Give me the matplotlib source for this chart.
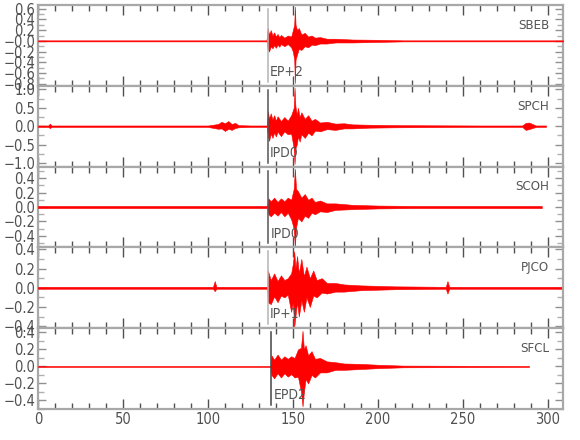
import matplotlib
matplotlib.use("Agg")
import matplotlib.pyplot as plt
from matplotlib import font_manager
from matplotlib.ticker import MultipleLocator

# pick a narrow font if we have one, else condensed DejaVu
names = {f.name for f in font_manager.fontManager.ttflist}
if "Liberation Sans Narrow" in names:
    plt.rcParams["font.family"] = ["Liberation Sans Narrow", "DejaVu Sans"]
else:
    plt.rcParams["font.family"] = ["DejaVu Sans"]
    plt.rcParams["font.stretch"] = "condensed"

stations = ["SBEB", "SPCH", "SCOH", "PJCO", "SFCL"]
picks = ["EP+2", "IPD0", "IPD0", "IP+1", "EPD2"]
pick_times = [135.3, 135.2, 135.5, 135.3, 137.4]

# envelope of each trace (time s, upper and lower amplitude)
sbeb_t = [0, 134.5, 135.2, 136, 137, 138, 139, 140, 141, 142, 143, 145, 147, 149, 150, 150.8,
          151.2, 151.6, 152.5, 153.5, 155, 157, 159, 161, 163, 166, 170, 175, 185, 200, 215, 309]
sbeb_up = [.01, .01, .24, .12, .2, .1, .16, .08, .13, .07, .11, .06, .1, .08, .2, .3,
           .64, .3, .2, .24, .12, .15, .08, .1, .06, .07, .04, .04, .025, .02, .01, .01]
sbeb_lo = [-.01, -.01, -.15, -.2, -.1, -.14, -.08, -.13, -.07, -.11, -.06, -.1, -.06, -.12, -.2, -.35,
           -.79, -.35, -.25, -.15, -.17, -.1, -.12, -.07, -.08, -.05, -.05, -.03, -.03, -.02, -.01, -.01]

spch_t = [0, 6, 7, 8, 60, 100, 106, 108, 110, 112, 114, 116, 118, 125, 134.8, 135.3, 136, 137,
          138, 139, 140, 141, 143, 145, 147, 149, 150.5, 151, 151.5, 152.3, 153, 154, 155, 157,
          159, 161, 163, 166, 170, 175, 180, 185, 195, 210, 230, 260, 285, 287, 289, 291, 293, 299]
spch_up = [.02, .02, .07, .02, .02, .02, .06, .12, .08, .14, .06, .09, .03, .02, .02, .41, .2, .35,
           .18, .3, .15, .27, .14, .25, .15, .3, .5, 1.05, .55, .3, .5, .25, .38, .2,
           .3, .15, .2, .1, .12, .07, .08, .05, .04, .03, .025, .02, .02, .09, .1, .06, .02, .02]
spch_lo = [-.02, -.02, -.05, -.02, -.02, -.02, -.07, -.06, -.13, -.07, -.1, -.05, -.03, -.02, -.02, -.25, -.4, -.2,
           -.32, -.17, -.28, -.15, -.27, -.14, -.22, -.2, -.6, -1.03, -.6, -.5, -.28, -.42, -.22, -.32,
           -.18, -.25, -.12, -.14, -.08, -.1, -.06, -.06, -.04, -.03, -.025, -.02, -.02, -.1, -.08, -.05, -.02, -.02]

scoh_t = [0, 135, 135.6, 137, 139, 141, 143, 145, 147, 149, 150.5, 151.2, 151.9, 153, 155, 157,
          159, 161, 163, 166, 170, 175, 185, 200, 220, 296.5]
scoh_up = [.015, .015, .12, .08, .13, .07, .12, .08, .13, .1, .25, .53, .25, .22, .13, .18,
           .1, .13, .07, .09, .05, .05, .03, .02, .015, .015]
scoh_lo = [-.015, -.015, -.1, -.13, -.08, -.12, -.07, -.13, -.08, -.17, -.3, -.55, -.28, -.15, -.2, -.12,
           -.15, -.08, -.1, -.06, -.07, -.04, -.03, -.02, -.015, -.015]

pjco_t = [0, 103, 104, 105, 135, 135.3, 137, 139, 141, 143, 145, 147, 149, 150, 150.8, 151.5, 152.5,
          153.5, 155, 156.5, 158, 160, 162, 164, 167, 170, 175, 180, 190, 210, 240, 241, 242, 308]
pjco_up = [.01, .01, .07, .01, .01, .18, .08, .15, .07, .13, .08, .1, .15, .25, .38, .2, .33,
           .15, .3, .12, .22, .1, .18, .08, .1, .05, .05, .035, .025, .015, .01, .07, .01, .01]
pjco_lo = [-.01, -.01, -.035, -.01, -.01, -.15, -.17, -.09, -.15, -.08, -.1, -.07, -.25, -.15, -.41, -.3, -.15,
           -.3, -.13, -.25, -.1, -.2, -.08, -.1, -.05, -.06, -.04, -.04, -.025, -.015, -.01, -.06, -.01, -.01]

sfcl_t = [0, 137, 137.4, 139, 141, 143, 145, 147, 149, 151, 153, 154.8, 155.7, 156.5, 157.5, 159,
          161, 163, 166, 170, 175, 180, 190, 200, 215, 289]
sfcl_up = [.006, .006, .13, .08, .14, .08, .12, .09, .12, .1, .2, .22, .42, .2, .25, .13,
           .18, .09, .1, .06, .05, .035, .03, .02, .01, .006]
sfcl_lo = [-.006, -.006, -.1, -.14, -.08, -.13, -.08, -.12, -.09, -.13, -.12, -.3, -.47, -.3, -.15, -.2,
           -.1, -.13, -.07, -.07, -.04, -.04, -.03, -.02, -.01, -.006]

traces = [(sbeb_t, sbeb_up, sbeb_lo), (spch_t, spch_up, spch_lo), (scoh_t, scoh_up, scoh_lo),
          (pjco_t, pjco_up, pjco_lo), (sfcl_t, sfcl_up, sfcl_lo)]

ylims = [(-0.84, 0.67), (-1.1, 1.1), (-0.56, 0.56), (-0.42, 0.42), (-0.5, 0.45)]
yticks = [[0.6, 0.4, 0.2, 0.0, -0.2, -0.4, -0.6, -0.8], [1.0, 0.5, 0.0, -0.5, -1.0],
          [0.4, 0.2, 0.0, -0.2, -0.4], [0.4, 0.2, 0.0, -0.2, -0.4], [0.4, 0.2, 0.0, -0.2, -0.4]]
ylabels = [["0.6", "0.4", "0.2", "\u22120.0", "\u22120.2", "\u22120.4", "\u22120.6", "\u22120.8"],
           ["1.0", "0.5", "0.0", "\u22120.5", "\u22121.0"],
           ["0.4", "0.2", "0.0", "\u22120.2", "\u22120.4"],
           ["0.4", "0.2", "0.0", "\u22120.2", "\u22120.4"],
           ["0.4", "0.2", "0.0", "\u22120.2", "\u22120.4"]]
pick_colors = ["#b4b4b4", "#555555", "#555555", "#b4b4b4", "#444444"]

fig, axes = plt.subplots(5, 1, figsize=(5.8, 4.4), dpi=100, sharex=True)
fig.subplots_adjust(left=0.0655, right=0.9707, bottom=0.0705, top=0.9886, hspace=0)

for i, ax in enumerate(axes):
    t, up, lo = traces[i]
    ax.fill_between(t, lo, up, color="red", lw=0.4, clip_on=False, zorder=3)
    ax.axvline(pick_times[i], ymin=0.05, ymax=0.95, color=pick_colors[i], lw=1.1, zorder=4)
    ax.text(pick_times[i] + 1.3, 0.17, picks[i], transform=ax.get_xaxis_transform(),
            fontsize=10, color="#555555", va="center", ha="left")
    ax.text(301, 0.75, stations[i], transform=ax.get_xaxis_transform(),
            fontsize=9.5, color="#555555", va="center", ha="right")
    ax.set_xlim(0, 309)
    ax.set_ylim(*ylims[i])
    ax.set_yticks(yticks[i])
    ax.set_yticklabels(ylabels[i])
    step = yticks[i][0] - yticks[i][1]
    ax.yaxis.set_minor_locator(MultipleLocator(step / 2))
    ax.xaxis.set_major_locator(MultipleLocator(50))
    ax.xaxis.set_minor_locator(MultipleLocator(10))
    for s in ax.spines.values():
        s.set_color("#a8a8a8")
        s.set_linewidth(1.6)
    ax.tick_params(axis="both", which="both", direction="in", top=True, right=True,
                   colors="#505050", labelcolor="#505050", labelsize=10.5, pad=2)
    ax.tick_params(axis="x", which="major", length=7, width=1)
    ax.tick_params(axis="x", which="minor", length=4.5, width=1)
    ax.tick_params(axis="y", which="major", length=6, width=1, colors="#909090", labelcolor="#505050")
    ax.tick_params(axis="y", which="minor", length=4, width=1, colors="#b0b0b0")
    if i < 4:
        ax.tick_params(axis="x", labelbottom=False)

axes[-1].set_xticks([0, 50, 100, 150, 200, 250, 300])

fig.savefig("out.png", dpi=100)
